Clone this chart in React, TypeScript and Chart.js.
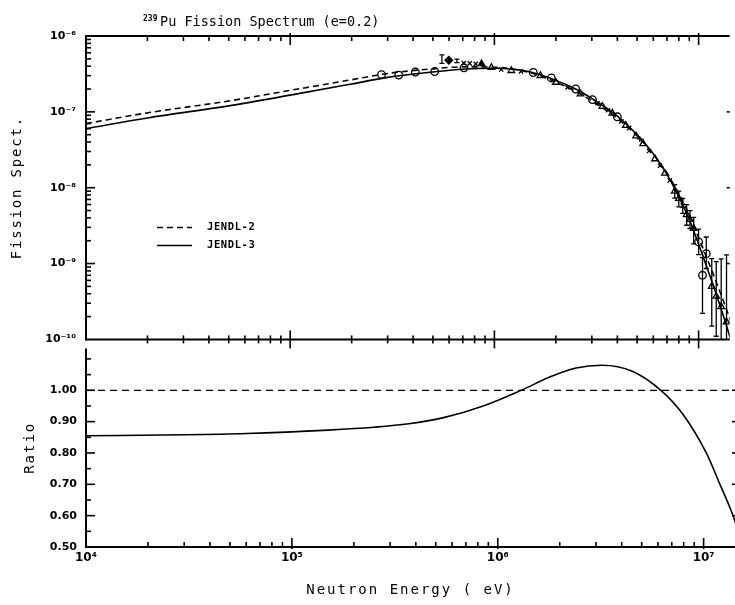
import React, { useEffect, useRef } from 'react';
import { Chart, registerables } from 'chart.js';

Chart.register(...registerables);

// ---------------- data ----------------
const energyEV = [1e4, 2e4, 5e4, 1e5, 2e5, 3e5, 5e5, 7e5, 1e6, 1.5e6, 2e6, 2.5e6, 3e6, 4e6, 5e6, 6e6, 7e6, 8e6, 9e6, 1e7, 1.2e7, 1.4e7, 1.6e7];
const jendl3Spectrum = [6.0e-8, 8.3e-8, 1.2e-7, 1.66e-7, 2.33e-7, 2.85e-7, 3.35e-7, 3.65e-7, 3.75e-7, 3.35e-7, 2.6e-7, 2.0e-7, 1.5e-7, 8.8e-8, 5.0e-8, 2.8e-8, 1.5e-8, 7.6e-9, 3.8e-9, 1.8e-9, 4.5e-10, 1.25e-10, 3.5e-11];
const jendl2Spectrum = [7.0e-8, 9.7e-8, 1.39e-7, 1.92e-7, 2.65e-7, 3.21e-7, 3.69e-7, 3.92e-7, 3.88e-7, 3.28e-7, 2.47e-7, 1.87e-7, 1.39e-7, 8.2e-8, 4.8e-8, 2.78e-8, 1.55e-8, 8.3e-9, 4.4e-9, 2.2e-9, 6.4e-10, 2.1e-10, 7.2e-11];

const ratioEnergy = [1e4, 3e4, 6e4, 1.5e5, 2.5e5, 3.7e5, 5.4e5, 8.5e5, 1.3e6, 1.8e6, 2.4e6, 3.2e6, 4.5e6, 6.2e6, 7.9e6, 1.03e7, 1.2e7, 1.38e7, 1.6e7];
const ratioValues = [0.855, 0.858, 0.862, 0.873, 0.882, 0.893, 0.912, 0.95, 1.0, 1.043, 1.071, 1.08, 1.061, 1.0, 0.925, 0.8, 0.7, 0.605, 0.48];
const unityEnergy = [1e4, 1.6e7];
const unityValues = [1, 1];

const expEnergy = [
  2.8e5, 3.4e5, 4.1e5, 5.1e5, 5.53e5, 5.98e5, 6.55e5, 7.08e5, 7.1e5, 7.57e5, 8.1e5, 8.65e5, 9.67e5, 1.08e6, 1.21e6, 1.35e6, 1.55e6, 1.68e6, 1.9e6,
  2.0e6, 2.28e6, 2.5e6, 2.64e6, 3.02e6, 3.2e6, 3.38e6, 3.6e6, 3.78e6, 4.0e6, 4.18e6, 4.4e6, 4.57e6, 4.94e6, 5.15e6, 5.35e6, 5.72e6, 6.11e6, 6.47e6, 6.84e6, 7.23e6,
  7.64e6, 8.0e6, 8.36e6, 8.74e6, 9.07e6, 9.46e6, 1.0e7, 1.045e7, 1.09e7, 1.16e7, 1.22e7, 1.29e7, 1.37e7,
];
const expValue = [
  3.1e-7, 3.05e-7, 3.35e-7, 3.4e-7, 5.0e-7, 4.8e-7, 4.7e-7, 4.4e-7, 3.8e-7, 4.35e-7, 4.3e-7, 4.3e-7, 3.84e-7, 3.62e-7, 3.5e-7, 3.42e-7, 3.3e-7, 3.0e-7, 2.8e-7,
  2.45e-7, 2.1e-7, 2.0e-7, 1.72e-7, 1.45e-7, 1.3e-7, 1.18e-7, 1.05e-7, 9.6e-8, 8.6e-8, 7.5e-8, 6.6e-8, 6.1e-8, 4.8e-8, 4.4e-8, 3.8e-8, 3.05e-8, 2.4e-8, 1.95e-8, 1.55e-8, 1.25e-8,
  9.0e-9, 7.2e-9, 5.8e-9, 4.4e-9, 3.8e-9, 2.9e-9, 1.93e-9, 7.0e-10, 1.35e-9, 5.0e-10, 3.7e-10, 2.7e-10, 1.7e-10,
];
const expLow: (number | null)[] = [
  null, null, null, null, 4.35e-7, null, 4.45e-7, null, null, null, null, null, null, null, null, null, null, null, null,
  null, null, null, null, null, null, null, null, null, null, null, null, null, null, null, null, null, null, null, null, null,
  7.3e-9, 5.6e-9, 4.6e-9, 3.2e-9, 2.9e-9, 1.82e-9, 1.31e-9, 2.2e-10, 8.6e-10, 1.5e-10, 1.1e-10, 5e-11, 5e-11,
];
const expHigh: (number | null)[] = [
  null, null, null, null, 5.65e-7, null, 4.95e-7, null, null, null, null, null, null, null, null, null, null, null, null,
  null, null, null, null, null, null, null, null, null, null, null, null, null, null, null, null, null, null, null, null, null,
  1.1e-8, 9.0e-9, 7.2e-9, 6.0e-9, 5.0e-9, 4.07e-9, 2.85e-9, 1.2e-9, 2.24e-9, 1.16e-9, 1.06e-9, 1.15e-9, 1.3e-9,
];
const expMarker = [
  'circle', 'circle', 'circle', 'circle', 'none', 'diamond', 'none', 'crossRot', 'circle', 'crossRot', 'crossRot', 'triangleFilled', 'triangle', 'crossRot', 'triangle', 'crossRot', 'circle', 'triangle', 'circle',
  'triangle', 'crossRot', 'circle', 'triangle', 'circle', 'crossRot', 'triangle', 'crossRot', 'triangle', 'circle', 'crossRot', 'triangle', 'crossRot', 'triangle', 'cross', 'triangle', 'crossRot', 'triangle', 'crossRot', 'triangle', 'crossRot',
  'triangle', 'triangle', 'crossRot', 'triangle', 'triangle', 'triangle', 'circle', 'circle', 'circle', 'triangle', 'triangle', 'triangle', 'triangle',
];

const X_MIN = 1e4;
const X_MAX = 1.42e7;
const xMajorTicks = [1e4, 1e5, 1e6, 1e7];
const xTickLabels = ['10⁴', '10⁵', '10⁶', '10⁷'];
const minorMultipliers = [2, 3, 4, 5, 6, 7, 8, 9];
const specMajorTicks = [1e-10, 1e-9, 1e-8, 1e-7, 1e-6];
const specTickLabels = ['10⁻¹⁰', '10⁻⁹', '10⁻⁸', '10⁻⁷', '10⁻⁶'];
const ratioMajorTicks = [0.5, 0.6, 0.7, 0.8, 0.9, 1.0];
const ratioTickLabels = ['0.50', '0.60', '0.70', '0.80', '0.90', '1.00'];
const ratioMinorTicks = [0.55, 0.65, 0.75, 0.85, 0.95, 1.05, 1.1];

const titleIsotope = '239';
const titleText = 'Pu Fission Spectrum (e=0.2)';
const yTitleTop = 'Fission Spect.';
const yTitleBottom = 'Ratio';
const xTitle = 'Neutron Energy ( eV)';

// ---------------- helpers ----------------
const MONO = '"DejaVu Sans Mono", monospace';
const TICK_FONT = { family: '"DejaVu Sans", sans-serif', size: 11, weight: 'bold' as const };

const xMinorTicks = xMajorTicks.flatMap((d) => minorMultipliers.map((m) => m * d)).filter((v) => v < X_MAX);
const specMinorTicks = specMajorTicks.slice(0, -1).flatMap((d) => minorMultipliers.map((m) => m * d));

function framePlugin(o: { yMajor: number[]; yMinor: number[]; top: 'in' | 'none'; bottom: 'in' | 'cross'; topLine: boolean }) {
  return {
    id: 'frameTicks',
    afterDraw(chart: any) {
      const { ctx, chartArea: a, scales } = chart;
      const xs = scales.x;
      const ys = scales.y;
      ctx.save();
      ctx.strokeStyle = '#000';
      const seg = (x1: number, y1: number, x2: number, y2: number) => {
        ctx.beginPath();
        ctx.moveTo(x1, y1);
        ctx.lineTo(x2, y2);
        ctx.stroke();
      };
      ctx.lineWidth = 2;
      seg(a.left, a.top - (o.topLine ? 1 : 0), a.left, a.bottom + 1);
      if (o.topLine) seg(a.left - 1, a.top, a.right, a.top);
      seg(a.left - 1, a.bottom, a.right, a.bottom);
      ctx.lineWidth = 1.6;
      const xTick = (v: number, major: boolean) => {
        const px = xs.getPixelForValue(v);
        if (px < a.left + 1 || px > a.right) return;
        const L = major ? 9 : 5;
        if (o.top === 'in') seg(px, a.top - (major ? 3 : 0), px, a.top + L);
        if (o.bottom === 'in') seg(px, a.bottom - L, px, a.bottom + (major ? 2 : 0));
        else seg(px, a.bottom - (major ? 9 : 4), px, a.bottom + (major ? 9 : 4));
      };
      xMajorTicks.forEach((v) => xTick(v, true));
      xMinorTicks.forEach((v) => xTick(v, false));
      const yTick = (v: number, major: boolean) => {
        const py = ys.getPixelForValue(v);
        if (py < a.top + 1 || py > a.bottom - 1) return;
        seg(a.left, py, a.left + (major ? 9 : 5), py);
        if (major) seg(a.right - 3, py, a.right, py);
      };
      o.yMajor.forEach((v) => yTick(v, true));
      o.yMinor.forEach((v) => yTick(v, false));
      ctx.restore();
    },
  };
}

const errorBarPlugin = {
  id: 'errorBars',
  afterDatasetsDraw(chart: any) {
    const { ctx, chartArea: a, scales } = chart;
    ctx.save();
    ctx.beginPath();
    ctx.rect(a.left, a.top, a.right - a.left, a.bottom - a.top);
    ctx.clip();
    ctx.strokeStyle = '#000';
    ctx.lineWidth = 1.3;
    expEnergy.forEach((e, i) => {
      const lo = expLow[i];
      const hi = expHigh[i];
      if (lo == null || hi == null) return;
      const px = scales.x.getPixelForValue(e);
      const y1 = scales.y.getPixelForValue(hi);
      const y2 = scales.y.getPixelForValue(lo);
      ctx.beginPath();
      ctx.moveTo(px, y1);
      ctx.lineTo(px, y2);
      ctx.moveTo(px - 2.5, y1);
      ctx.lineTo(px + 2.5, y1);
      ctx.moveTo(px - 2.5, y2);
      ctx.lineTo(px + 2.5, y2);
      ctx.stroke();
    });
    ctx.restore();
  },
};

const topTextPlugin = {
  id: 'topTexts',
  afterDraw(chart: any) {
    const { ctx, chartArea: a } = chart;
    ctx.save();
    ctx.fillStyle = '#000';
    ctx.strokeStyle = '#000';
    ctx.textAlign = 'left';
    ctx.textBaseline = 'alphabetic';
    ctx.font = `bold 8px ${MONO}`;
    ctx.fillText(titleIsotope, 143, 21);
    ctx.font = `13.5px ${MONO}`;
    ctx.fillText(titleText, 160, 26);

    // legend inside the plot
    const dsList = chart.data.datasets.filter((d: any) => d.label && d.label.startsWith('JENDL'));
    dsList.forEach((d: any, i: number) => {
      const y = a.top + 191.5 + i * 18;
      ctx.save();
      ctx.lineWidth = 1.5;
      ctx.setLineDash(d.borderDash || []);
      ctx.beginPath();
      ctx.moveTo(a.left + 71, y);
      ctx.lineTo(a.left + 106, y);
      ctx.stroke();
      ctx.restore();
      ctx.font = `bold 10.5px ${MONO}`;
      ctx.textBaseline = 'middle';
      (ctx as any).letterSpacing = '0.6px';
      ctx.fillText(d.label, a.left + 121, y);
      (ctx as any).letterSpacing = '0px';
    });

    ctx.translate(17, (a.top + a.bottom) / 2);
    ctx.rotate(-Math.PI / 2);
    ctx.textAlign = 'center';
    ctx.textBaseline = 'middle';
    ctx.font = `14px ${MONO}`;
    (ctx as any).letterSpacing = '1.8px';
    ctx.fillText(yTitleTop, 0, 0);
    ctx.restore();
  },
};

const bottomTextPlugin = {
  id: 'bottomTexts',
  afterDraw(chart: any) {
    const { ctx, chartArea: a } = chart;
    ctx.save();
    ctx.fillStyle = '#000';
    ctx.font = `14px ${MONO}`;
    ctx.textAlign = 'center';
    ctx.textBaseline = 'middle';
    (ctx as any).letterSpacing = '2px';
    ctx.fillText(xTitle, (a.left + a.right) / 2, a.bottom + 43);
    ctx.translate(30, (a.top + a.bottom) / 2);
    ctx.rotate(-Math.PI / 2);
    ctx.fillText(yTitleBottom, 0, 0);
    ctx.restore();
  },
};

function markerStyle(m: string) {
  if (m === 'diamond') return 'rectRot';
  if (m === 'triangleFilled') return 'triangle';
  if (m === 'none') return 'circle';
  return m;
}

export default function App() {
  const topRef = useRef<HTMLCanvasElement>(null);
  const botRef = useRef<HTMLCanvasElement>(null);

  useEffect(() => {
    const xScaleBase = {
      type: 'logarithmic' as const,
      min: X_MIN,
      max: X_MAX,
      grid: { display: false, drawTicks: false },
      border: { display: false },
      afterBuildTicks: (s: any) => {
        s.ticks = xMajorTicks.map((v) => ({ value: v }));
      },
    };

    const top = new Chart(topRef.current as HTMLCanvasElement, {
      type: 'line',
      data: {
        datasets: [
          {
            label: 'JENDL-2',
            data: energyEV.map((e, i) => ({ x: e, y: jendl2Spectrum[i] })),
            borderColor: '#000',
            borderWidth: 1.6,
            borderDash: [6, 4],
            pointRadius: 0,
            cubicInterpolationMode: 'monotone',
            fill: false,
          },
          {
            label: 'JENDL-3',
            data: energyEV.map((e, i) => ({ x: e, y: jendl3Spectrum[i] })),
            borderColor: '#000',
            borderWidth: 1.6,
            pointRadius: 0,
            cubicInterpolationMode: 'monotone',
            fill: false,
          },
          {
            label: 'Experiments',
            data: expEnergy.map((e, i) => ({ x: e, y: expValue[i] })),
            showLine: false,
            borderColor: '#000',
            pointBorderColor: '#000',
            pointBorderWidth: 1.3,
            pointStyle: expMarker.map(markerStyle) as any,
            pointRadius: expMarker.map((m) => (m === 'none' ? 0 : m === 'crossRot' || m === 'cross' ? 3 : 3.8)),
            pointBackgroundColor: expMarker.map((m) => (m === 'diamond' || m === 'triangleFilled' ? '#000' : 'rgba(255,255,255,0)')),
          },
        ],
      },
      options: {
        responsive: false,
        animation: false,
        layout: { padding: { top: 36, left: 0, right: 0, bottom: 13 } },
        plugins: { legend: { display: false }, tooltip: { enabled: false }, title: { display: false } },
        scales: {
          x: {
            ...xScaleBase,
            ticks: { display: false },
            afterFit: (s: any) => {
              s.height = 0;
            },
          },
          y: {
            type: 'logarithmic',
            min: 1e-10,
            max: 1e-6,
            grid: { display: false, drawTicks: false },
            border: { display: false },
            afterBuildTicks: (s: any) => {
              s.ticks = specMajorTicks.map((v) => ({ value: v }));
            },
            afterFit: (s: any) => {
              s.width = 86;
            },
            ticks: {
              autoSkip: false,
              color: '#000',
              padding: 10,
              font: TICK_FONT,
              callback: (v: any) => {
                const idx = specMajorTicks.findIndex((t) => Math.abs(Math.log10(t) - Math.log10(Number(v))) < 1e-6);
                return idx >= 0 ? specTickLabels[idx] : '';
              },
            },
          },
        },
      } as any,
      plugins: [
        errorBarPlugin,
        framePlugin({ yMajor: specMajorTicks, yMinor: specMinorTicks, top: 'in', bottom: 'cross', topLine: true }),
        topTextPlugin,
      ],
    });

    const bot = new Chart(botRef.current as HTMLCanvasElement, {
      type: 'line',
      data: {
        datasets: [
          {
            label: 'JENDL-2 (reference)',
            data: unityEnergy.map((e, i) => ({ x: e, y: unityValues[i] })),
            borderColor: '#000',
            borderWidth: 1.3,
            borderDash: [7, 5],
            pointRadius: 0,
            fill: false,
          },
          {
            label: 'JENDL-3 / JENDL-2',
            data: ratioEnergy.map((e, i) => ({ x: e, y: ratioValues[i] })),
            borderColor: '#000',
            borderWidth: 1.6,
            pointRadius: 0,
            cubicInterpolationMode: 'monotone',
            fill: false,
          },
        ],
      },
      options: {
        responsive: false,
        animation: false,
        layout: { padding: { top: 10, left: 0, right: 0, bottom: 0 } },
        plugins: { legend: { display: false }, tooltip: { enabled: false }, title: { display: false } },
        scales: {
          x: {
            ...xScaleBase,
            afterFit: (s: any) => {
              s.height = 58;
            },
            ticks: {
              autoSkip: false,
              maxRotation: 0,
              color: '#000',
              padding: 4,
              font: { ...TICK_FONT, size: 12 },
              callback: (v: any) => {
                const idx = xMajorTicks.findIndex((t) => Math.abs(Math.log10(t) - Math.log10(Number(v))) < 1e-6);
                return idx >= 0 ? xTickLabels[idx] : '';
              },
            },
          },
          y: {
            type: 'linear',
            min: 0.5,
            max: 1.133,
            grid: { display: false, drawTicks: false },
            border: { display: false },
            afterBuildTicks: (s: any) => {
              s.ticks = ratioMajorTicks.map((v) => ({ value: v }));
            },
            afterFit: (s: any) => {
              s.width = 86;
            },
            ticks: {
              autoSkip: false,
              color: '#000',
              padding: 9,
              font: TICK_FONT,
              callback: (v: any) => {
                const idx = ratioMajorTicks.findIndex((t) => Math.abs(t - Number(v)) < 1e-6);
                return idx >= 0 ? ratioTickLabels[idx] : '';
              },
            },
          },
        },
      } as any,
      plugins: [
        framePlugin({ yMajor: ratioMajorTicks, yMinor: ratioMinorTicks, top: 'none', bottom: 'in', topLine: false }),
        bottomTextPlugin,
      ],
    });

    return () => {
      top.destroy();
      bot.destroy();
    };
  }, []);

  return (
    <div style={{ position: 'absolute', left: 0, top: 0, width: 735, height: 605, background: '#fff', overflow: 'hidden' }}>
      <canvas ref={topRef} width={735} height={356} style={{ position: 'absolute', left: 0, top: 0 }} />
      <canvas ref={botRef} width={735} height={272} style={{ position: 'absolute', left: 0, top: 333 }} />
    </div>
  );
}
